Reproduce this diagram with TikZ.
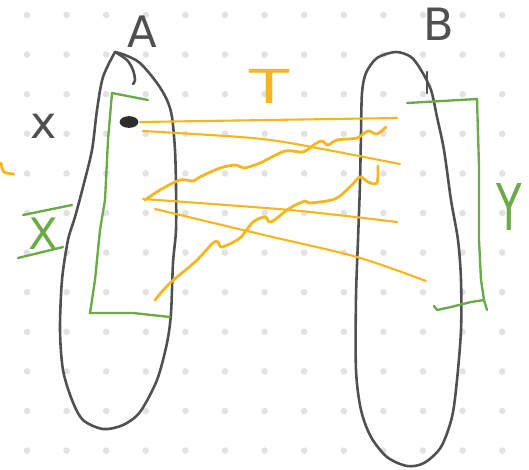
\documentclass[tikz,border=0pt]{standalone}
\usepackage{fontspec}
\setmainfont{DejaVu Sans}
\definecolor{penGrey}{RGB}{80,80,80}
\definecolor{penInk}{RGB}{45,45,45}
\definecolor{penGreen}{RGB}{108,170,72}
\definecolor{penOrange}{RGB}{246,183,28}
\definecolor{gridDot}{RGB}{226,226,226}
\begin{document}
\begin{tikzpicture}[x=0.03cm,y=-0.03cm,line cap=round,line join=round]
\tikzstyle{outline}=[penGrey,line width=2.2pt]
\tikzstyle{bracket}=[penGreen,line width=2pt]
\tikzstyle{mapping}=[penOrange,line width=1.8pt]
\tikzstyle{wavy}=[penOrange,line width=2.4pt]
\tikzstyle{hand}=[inner sep=0pt]
\useasboundingbox (0,0) rectangle (529,469);
\fill [white] (0,0) rectangle (529,469);
\foreach \i in {0,...,12}
  \foreach \j in {0,...,11}
    \fill [gridDot] (27+39.6*\i,15+39.6*\j) circle (2.8pt);
% set A
\draw [outline] plot [smooth] coordinates {(115,52) (103,77) (97,110) (92,150) (83,187) (75,217) (68,240) (62,280) (60,330) (63,370) (72,400) (83,420) (103,429) (123,425) (140,412) (157,380) (167,343) (171,313) (173,263) (176,230) (176,187) (175,150) (172,117) (167,100) (157,83) (140,63) (125,55) (115,52)};
\draw [outline] plot [smooth] coordinates {(115,52) (127,60) (133,70) (135,80) (133,84)};
\node [hand,text=penGrey,font=\fontsize{37}{40}\selectfont] (labA) at (142,32) {A};
% set B
\draw [outline] plot [smooth cycle] coordinates {(396,52) (377,58) (366,73) (362,93) (361,133) (360,183) (358,240) (356,297) (356,370) (361,410) (371,437) (387,457) (407,466) (424,463) (441,447) (452,417) (457,380) (461,330) (461,280) (458,240) (451,200) (444,150) (437,117) (431,90) (421,70) (411,57)};
\draw [outline] (427,72) -- (427,93);
\node [hand,text=penGrey,font=\fontsize{38}{40}\selectfont] (labB) at (439,24) {B};
\node [hand,text=penGrey,font=\fontsize{38}{40}\selectfont] (labx) at (44,126) {x};
% subset X
\draw [bracket] (148,100) -- (112,93) -- (108,140) -- (105,200) -- (100,230) -- (95,280) -- (90,313) -- (133,313) -- (170,317);
\draw [bracket] (23,215) -- (72,205);
\draw [bracket] (18,258) -- (63,247);
\node [hand,text=penGreen,font=\fontsize{37}{40}\selectfont] (labX) at (43,234) {X};
% subset Y
\draw [bracket] (407,103) -- (477,99) -- (479,167) -- (479,240) -- (481,280) -- (484,300) -- (487,310) -- (484,300) -- (471,302) -- (451,307) -- (437,310) -- (434,306);
\node [hand,text=penGreen,font=\fontsize{55}{58}\selectfont,xscale=0.65] (labY) at (509,207) {Y};
% map T
\node [hand,text=penOrange,font=\fontsize{40}{42}\selectfont,xscale=1.4] (labT) at (270,86) {T};
\draw [wavy] plot [smooth] coordinates {(1,163) (4,172) (14,174)};
\fill [penInk] (129,122) ellipse (8pt and 5pt);
\coordinate (a1) at (140,122);
\coordinate (b1) at (397,118);
\coordinate (a2) at (143,131);
\coordinate (b2) at (400,164);
\coordinate (a3) at (145,200);
\coordinate (b3) at (386,127);
\coordinate (a4) at (143,199);
\coordinate (b4) at (397,222);
\coordinate (a5) at (155,209);
\coordinate (b5) at (426,281);
\coordinate (a6) at (155,300);
\coordinate (b6) at (378,166);
\draw [mapping] (a1) -- (b1);
\draw [mapping] plot [smooth] coordinates {(a2) (240,137) (290,143) (b2)};
\draw [wavy] plot [smooth,tension=0.5] coordinates {(a3) (160,190) (180,180) (193,181) (200,177) (220,168) (236,165) (244,168) (260,163) (285,151) (303,152) (315,144) (322,141) (328,145) (337,140) (357,138) (368,131) (377,134) (b3)};
\draw [mapping] plot [smooth] coordinates {(a4) (290,210) (b4)};
\draw [mapping] plot [smooth] coordinates {(a5) (264,235) (357,257) (b5)};
\draw [wavy] plot [smooth,tension=0.5] coordinates {(a6) (170,283) (195,262) (213,243) (218,242) (222,247) (240,238) (253,222) (265,217) (271,222) (290,208) (305,201) (310,203) (335,199) (350,187) (360,177) (368,182) (377,183) (b6)};
\end{tikzpicture}
\end{document}
